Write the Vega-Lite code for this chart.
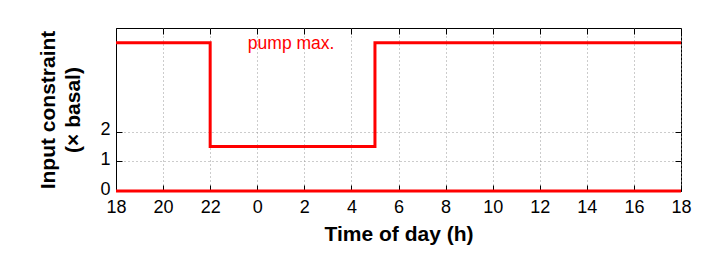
{
  "$schema": "https://vega.github.io/schema/vega-lite/v6.json",
  "width": 565,
  "height": 163,
  "autosize": {"type": "none"},
  "padding": {"left": 116, "top": 28, "right": 30, "bottom": 63},
  "background": "white",
  "config": {
    "font": "Liberation Sans",
    "view": {"stroke": "#000", "strokeWidth": 1},
    "axis": {
      "labelColor": "#000",
      "labelFontSize": 18,
      "titleColor": "#000",
      "titleFontSize": 21,
      "titleFontWeight": "bold",
      "tickColor": "#000",
      "domainColor": "#000",
      "gridColor": "#999",
      "gridDash": [1, 3],
      "gridWidth": 1
    }
  },
  "layer": [
    {
      "data": {
        "values": [
          {"hour": 18, "value": 5, "series": "max"},
          {"hour": 22, "value": 1.5, "series": "max"},
          {"hour": 29, "value": 5, "series": "max"},
          {"hour": 42, "value": 5, "series": "max"},
          {"hour": 18, "value": 0, "series": "min"},
          {"hour": 42, "value": 0, "series": "min"}
        ]
      },
      "mark": {"type": "line", "interpolate": "step-after", "color": "#ff0000", "strokeWidth": 3, "clip": false},
      "encoding": {
        "x": {
          "field": "hour",
          "type": "quantitative",
          "scale": {"domain": [18, 42], "nice": false, "zero": false},
          "axis": {
            "orient": "bottom",
            "values": [18, 20, 22, 24, 26, 28, 30, 32, 34, 36, 38, 40, 42],
            "labelExpr": "'' + (datum.value % 24)",
            "labelFlush": false,
            "tickSize": -6,
            "labelPadding": 13,
            "title": "Time of day (h)",
            "titlePadding": 7,
            "grid": true
          }
        },
        "y": {
          "field": "value",
          "type": "quantitative",
          "scale": {"domain": [0, 5.5], "nice": false},
          "axis": {
            "orient": "left",
            "values": [0, 1, 2],
            "tickSize": -6,
            "labelPadding": 12,
            "labelBaseline": "middle",
            "labelOffset": -2,
            "title": ["Input constraint", "(× basal)"],
            "titleLineHeight": 25,
            "titlePadding": 16,
            "grid": true
          }
        },
        "detail": {"field": "series"}
      }
    },
    {
      "data": {"values": [{"hour": 23.6, "value": 4.95, "label": "pump max."}]},
      "mark": {"type": "text", "align": "left", "baseline": "middle", "color": "#ff0000", "fontSize": 17.5},
      "encoding": {
        "x": {
          "field": "hour",
          "type": "quantitative",
          "scale": {"domain": [18, 42], "nice": false, "zero": false},
          "axis": {
            "orient": "top",
            "values": [18, 20, 22, 24, 26, 28, 30, 32, 34, 36, 38, 40, 42],
            "labels": false,
            "tickSize": -6,
            "domain": false,
            "grid": false,
            "title": null
          }
        },
        "y": {
          "field": "value",
          "type": "quantitative",
          "scale": {"domain": [0, 5.5], "nice": false},
          "axis": {
            "orient": "right",
            "values": [0, 1, 2],
            "labels": false,
            "tickSize": -6,
            "domain": false,
            "grid": false,
            "title": null
          }
        },
        "text": {"field": "label"}
      }
    }
  ],
  "resolve": {"axis": {"x": "independent", "y": "independent"}}
}
